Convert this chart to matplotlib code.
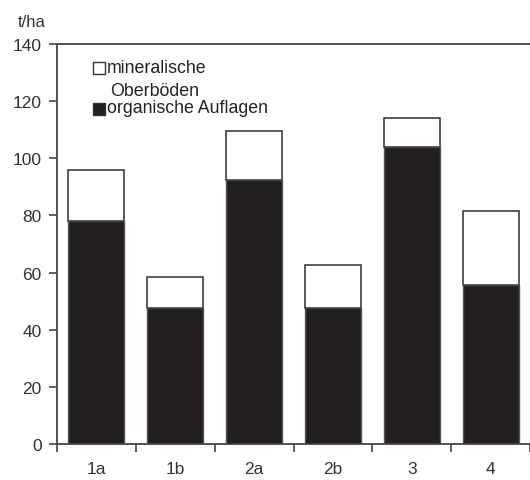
import matplotlib
matplotlib.use("Agg")
import matplotlib.pyplot as plt
from matplotlib.patches import Rectangle

plt.rcParams['font.family'] = ['Liberation Sans', 'DejaVu Sans']

# data (t/ha)
standorte = ["1a", "1b", "2a", "2b", "3", "4"]
organische = [78, 47.5, 92.5, 47.5, 104, 55.5]
gesamt = [96, 58.5, 109.5, 62.5, 114, 81.5]
mineralische = [g - o for g, o in zip(gesamt, organische)]

fig = plt.figure(figsize=(5.3, 4.81), dpi=100)
ax = fig.add_axes([57/530, 1 - 445/481, 1 - 57/530, 400/481])

x = list(range(len(standorte)))
ax.bar(x, organische, width=0.71, color="#231f20", edgecolor="#555555", linewidth=1)
ax.bar(x, mineralische, bottom=organische, width=0.71, color="white",
       edgecolor="#404040", linewidth=1.2)

ax.set_xlim(-0.5, len(standorte) - 0.5)
ax.set_ylim(0, 140)
ax.set_yticks(range(0, 141, 20))
ax.set_xticks(x)
ax.set_xticklabels(standorte)
ax.set_xticks([i - 0.5 for i in range(len(standorte) + 1)], minor=True)
ax.tick_params(axis="x", which="major", length=0, pad=12, labelsize=12.5, colors="#333333")
ax.tick_params(axis="x", which="minor", length=6, width=1.2, direction="out", color="#444444")
ax.tick_params(axis="y", length=6, width=1.2, direction="out", pad=5, labelsize=12.5,
               color="#444444", labelcolor="#333333")

for s in ["left", "bottom", "top"]:
    ax.spines[s].set_color("#444444")
    ax.spines[s].set_linewidth(1.3)
ax.spines["right"].set_visible(False)

fig.text(18/530, 1 - 27/481, "t/ha", fontsize=12, color="#333333", va="baseline")

# legend drawn by hand to follow the original layout
fig.patches.append(Rectangle((93/530, 1 - 75/481), 12/530, 12/481, transform=fig.transFigure,
                             facecolor="white", edgecolor="#333333", linewidth=1))
fig.patches.append(Rectangle((93/530, 1 - 116/481), 12/530, 12/481, transform=fig.transFigure,
                             facecolor="#231f20", edgecolor="#333333", linewidth=1))
fig.text(107/530, 1 - 69/481, "mineralische", fontsize=12.8, color="#222222", va="center")
fig.text(110/530, 1 - 91/481, "Oberböden", fontsize=12.8, color="#222222", va="center")
fig.text(107/530, 1 - 109/481, "organische Auflagen", fontsize=12.8, color="#222222", va="center")

fig.savefig("out.png", dpi=100)
